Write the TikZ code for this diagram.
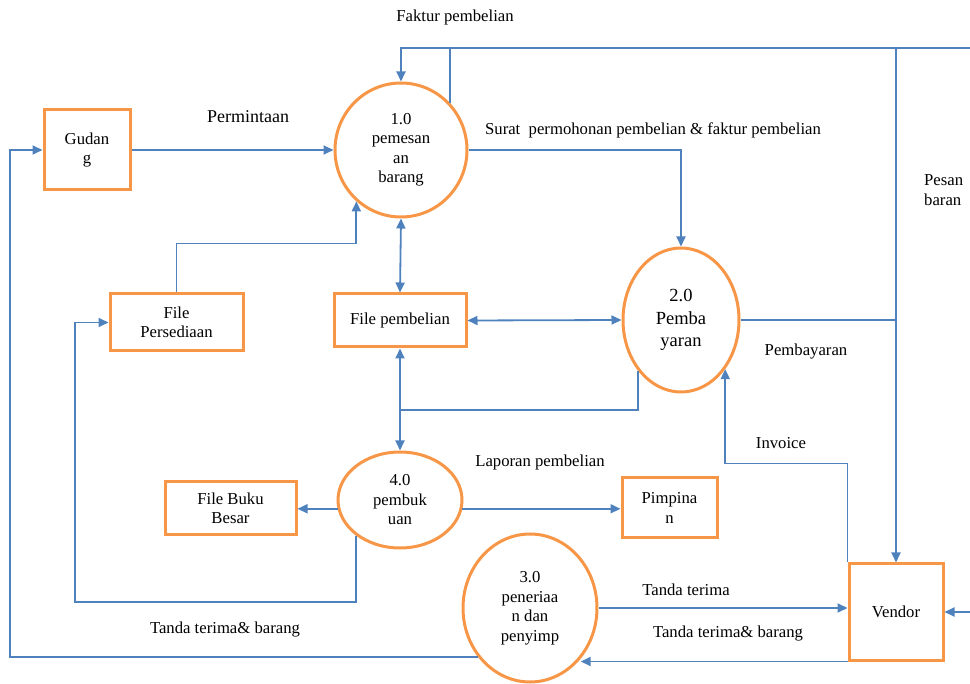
\documentclass[tikz,border=0pt]{standalone}
\usepackage{fontspec}
\setmainfont{Liberation Serif}
\usetikzlibrary{shapes.geometric,arrows.meta,calc}
\definecolor{dfdorange}{HTML}{F79646}
\definecolor{dfdblue}{HTML}{4F81BD}
\tikzset{
  every node/.style={font=\fontsize{16.7}{19.5}\selectfont},
  boxnode/.style={draw=dfdorange, line width=3pt, rectangle, align=center, inner sep=0pt},
  procnode/.style={draw=dfdorange, line width=3pt, ellipse, align=center, inner sep=0pt},
  flow/.style={draw=dfdblue, line width=1.8pt},
  arr/.style={flow, -{Triangle[length=10pt,width=9pt]}},
  darr/.style={flow, {Triangle[length=10pt,width=9pt]}-{Triangle[length=10pt,width=9pt]}},
  lbl/.style={inner sep=0pt, align=left}
}
\begin{document}
\begin{tikzpicture}[x=1pt,y=-1pt]
\useasboundingbox (0,0) rectangle (970,684);

% processes
\node[procnode, minimum width=132pt, minimum height=134pt] (c1) at (401,150) {1.0\\pemesan\\an\\barang};
\node[procnode, minimum width=116pt, minimum height=144pt, font=\fontsize{18.5}{22.5}\selectfont] (c2) at (681,320) {2.0\\Pemba\\yaran};
\node[procnode, minimum width=124pt, minimum height=96pt] (c4) at (400,500) {4.0\\pembuk\\uan};
\node[procnode, minimum width=134pt, minimum height=148pt] (c3) at (530,608) {3.0\\peneriaa\\n dan\\penyimp};

% entities / stores
\node[boxnode, minimum width=86pt, minimum height=80pt] (gud) at (87,150) {Gudan\\g};
\node[boxnode, minimum width=133pt, minimum height=57pt] (fp) at (176.5,322.5) {File\\Persediaan};
\node[boxnode, minimum width=132pt, minimum height=53pt] (fpb) at (400,320.5) {File pembelian};
\node[boxnode, minimum width=131pt, minimum height=53pt] (fbb) at (230.5,508.5) {File Buku\\Besar};
\node[boxnode, minimum width=95pt, minimum height=60pt] (pim) at (669.5,508) {Pimpina\\n};
\node[boxnode, minimum width=94pt, minimum height=96pt] (ven) at (896,612) {Vendor};

% helper coordinates
\coordinate (topR) at (970,48);
\coordinate (jtop) at (896,48);
\coordinate (L) at (10,400);
\coordinate (j4) at (400,410);
\coordinate (k) at (75,602);
\coordinate (rE) at (970,612);

% connectors
\draw[arr] (topR) -| (c1.north);
\draw[arr] (c1.44) |- (jtop) -- (ven.north);
\draw[arr] (gud.east) -- (c1.west);
\draw[arr] (c3.223) -| (L) |- (gud.west);
\draw[arr] (c1.east) -| (c2.north);
\draw[arr] (fp.north) -- ++(0,-49) -| (c1.229);
\draw[darr] (c1.south) -- (fpb.north);
\draw[darr] (fpb.east) -- (c2.west);
\draw[flow] (c2.east) -- (c2.east -| ven.north);
\draw[flow] (c2.230) |- (j4);
\draw[darr] (fpb.south) -- (c4.north);
\draw[arr] (ven.north west) -- ++(0,-99) -| (c2.312);
\draw[arr] (c4.188) -- (c4.188 -| fbb.east);
\draw[arr] (c4.352) -- (c4.352 -| pim.west);
\draw[arr] (c4.219) |- (k) |- (fp.west);
\draw[arr] (c3.east) -- (c3.east -| ven.west);
\draw[arr] (ven.south west) -- (ven.south west -| c3.315);
\draw[arr] (rE) -- (ven.east);

% labels
\node[lbl] (t1) at (455,17) {Faktur pembelian};
\node[lbl, font=\fontsize{18}{21}\selectfont] (t2) at (248,117) {Permintaan};
\node[lbl] (t3) at (653,130) {Surat\ \ permohonan pembelian \& faktur pembelian};
\node[lbl, anchor=west] (t4) at (924,190) {Pesan\\baran};
\node[lbl] (t5) at (806,352) {Pembayaran};
\node[lbl] (t6) at (781,443) {Invoice};
\node[lbl] (t7) at (540,462) {Laporan pembelian};
\node[lbl] (t8) at (225,630) {Tanda terima\& barang};
\node[lbl] (t9) at (686,590) {Tanda terima};
\node[lbl] (t10) at (728,634) {Tanda terima\& barang};
\end{tikzpicture}
\end{document}
